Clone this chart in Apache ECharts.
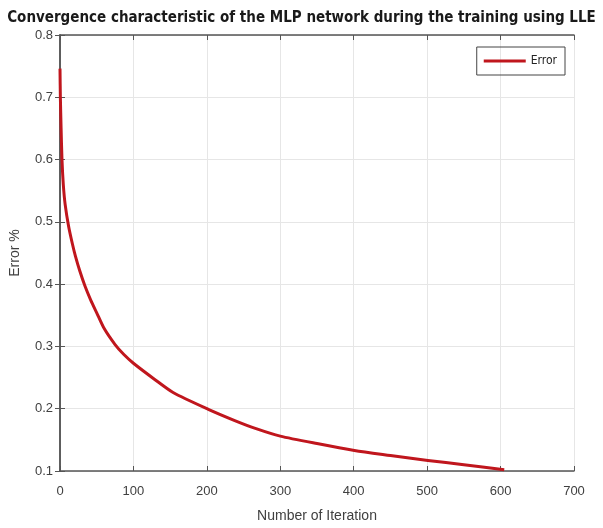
<!DOCTYPE html>
<html><head><meta charset="utf-8">
<script src="https://cdn.jsdelivr.net/npm/echarts@6/dist/echarts.min.js"></script>
<style>html,body{margin:0;padding:0;background:#fff}#c{width:603px;height:528px}</style>
</head><body><div id="c"></div>
<script>
var iterations = [0, 0.5, 1.5, 2.7, 4.5, 7, 11.7, 17, 21, 27, 34, 42, 50, 60, 75, 87, 100, 129, 154, 202, 238, 267, 300, 350, 401, 450, 501, 550, 605];
var errorValues = [0.746, 0.7, 0.65, 0.6, 0.56, 0.528, 0.493, 0.464, 0.445, 0.421, 0.397, 0.374, 0.354, 0.329, 0.303, 0.287, 0.273, 0.247, 0.226, 0.199, 0.181, 0.168, 0.156, 0.144, 0.133, 0.125, 0.117, 0.11, 0.102];
var xTicks = [0, 100, 200, 300, 400, 500, 600, 700];
var yTicks = [0.1, 0.2, 0.3, 0.4, 0.5, 0.6, 0.7, 0.8];

var pts = iterations.map(function(x, i){ return [x, errorValues[i]]; });
var chart = echarts.init(document.getElementById('c'));
var labelStyle = {color:'#404040', fontSize:13, fontFamily:'Liberation Sans'};
var axisLine = {show:true, lineStyle:{color:'#555', width:1.5}};
var tick = {inside:true, length:5, lineStyle:{color:'#555'}};
chart.setOption({
  animation:false,
  title:{text:'Convergence characteristic of the MLP network during the training using LLE',
    left:'center', top:6,
    textStyle:{fontFamily:'DejaVu Sans Condensed', fontWeight:'bold', fontSize:15, color:'#1a1a1a'}},
  grid:{left:58, right:29, top:35, bottom:57},
  legend:{data:['Error'], right:38, top:47, orient:'vertical',
    borderColor:'#444', borderWidth:1, borderRadius:0, padding:[8,8,8,7],
    itemWidth:42, itemHeight:3, itemGap:4, icon:'rect',
    textStyle:{fontFamily:'DejaVu Sans Condensed', fontSize:12, color:'#222'}},
  xAxis:[{type:'value', min:0, max:700, interval:100,
    name:'Number of Iteration', nameLocation:'middle', nameGap:38,
    nameTextStyle:{color:'#404040', fontSize:14, fontFamily:'Liberation Sans'},
    axisLine:axisLine, axisTick:tick,
    axisLabel:Object.assign({margin:14}, labelStyle),
    splitLine:{lineStyle:{color:'#e6e6e6'}}},
    {type:'value', position:'top', min:0, max:700, interval:100,
    axisLine:axisLine, axisTick:tick,
    axisLabel:{show:false}, splitLine:{show:false}}],
  yAxis:[{type:'value', min:0.1, max:0.8, interval:0.1,
    name:'Error %', nameLocation:'middle', nameGap:38,
    nameTextStyle:{color:'#404040', fontSize:14, fontFamily:'Liberation Sans'},
    axisLine:axisLine, axisTick:tick,
    axisLabel:Object.assign({margin:7, formatter:function(v){return v.toFixed(1);}}, labelStyle),
    splitLine:{lineStyle:{color:'#e6e6e6'}}},
    {type:'value', position:'right', min:0.1, max:0.8, interval:0.1,
    axisLine:axisLine, axisTick:tick,
    axisLabel:{show:false}, splitLine:{show:false}}],
  series:[{name:'Error', type:'line', data:pts, smooth:0.25, showSymbol:false,
    lineStyle:{color:'#c0161d', width:3, join:'round'}, itemStyle:{color:'#c0161d'}}]
});
</script></body></html>
